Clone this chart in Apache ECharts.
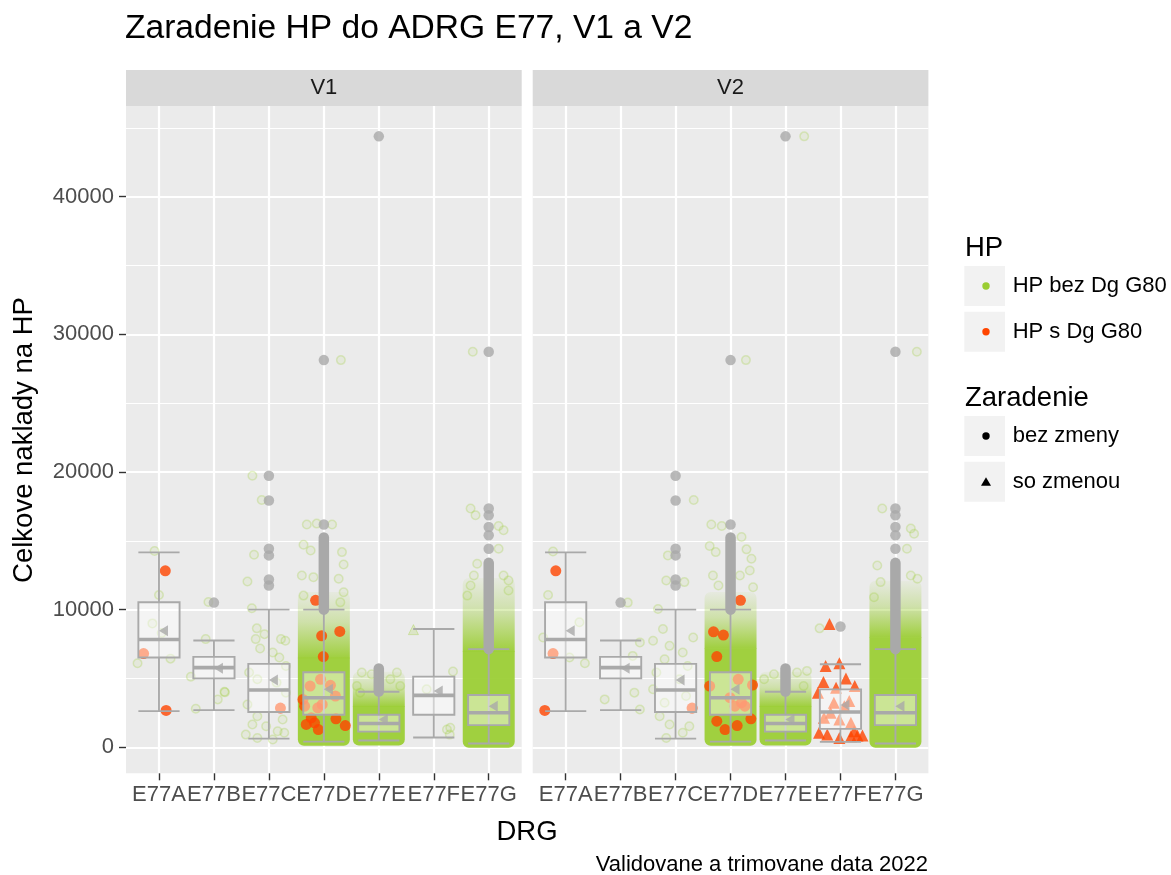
<!DOCTYPE html>
<html>
<head>
<meta charset="utf-8">
<title>Zaradenie HP do ADRG E77, V1 a V2</title>
<script src="https://cdn.jsdelivr.net/npm/echarts@6/dist/echarts.min.js"></script>
<style>
  html, body { margin: 0; padding: 0; background: #ffffff; }
  #chart { width: 1171px; height: 875px; }
</style>
</head>
<body>
<div id="chart"></div>
<script>
// kategorie a fazety
const drgCodes = ['E77A', 'E77B', 'E77C', 'E77D', 'E77E', 'E77F', 'E77G']
const facets = ['V1', 'V2']
const yTicks = [0, 10000, 20000, 30000, 40000]
const yMinorTicks = [5000, 15000, 25000, 35000, 45000]
const yMin = -1890
const yMax = 46590

// boxplot: [dolny whisker, Q1, median, Q3, horny whisker]
const boxV1 = [
  [2630, 6520, 7830, 10540, 14160],
  [2700, 5010, 5790, 6570, 7760],
  [630, 2560, 4160, 6060, 10000],
  [410, 2360, 3600, 5450, 10000],
  [490, 1140, 1730, 2360, 4040],
  [710, 2360, 3770, 5130, 8590],
  [270, 1610, 2510, 3800, 7130]
]
const boxV2 = [
  [2630, 6520, 7830, 10540, 14160],
  [2700, 5010, 5790, 6570, 7760],
  [630, 2560, 4160, 6060, 10000],
  [410, 2360, 3600, 5450, 10000],
  [490, 1140, 1730, 2360, 4040],
  [390, 1340, 2560, 4210, 6030],
  [270, 1610, 2510, 3800, 7130]
]
const meanV1 = [8470, 5750, 4890, 4210, 2020, 4090, 2990]
const meanV2 = [8470, 5750, 4890, 4210, 2020, 3070, 2990]

// odlahle hodnoty: [drg, hodnota]
const outliersV1 = [[1, 10510], [2, 19730], [2, 17930], [2, 14430], [2, 13940], [2, 12190], [2, 11750],
  [3, 16180], [3, 28130], [4, 44385], [6, 14430], [6, 15400], [6, 16010], [6, 16860], [6, 17350], [6, 28740]]
const outliersV2 = [[1, 10510], [2, 19730], [2, 17930], [2, 14430], [2, 13940], [2, 12190], [2, 11750],
  [3, 16180], [3, 28130], [4, 44385], [5, 8780], [6, 14430], [6, 15400], [6, 16010], [6, 16860], [6, 17350], [6, 28740]]
// husto nahustene odlahle hodnoty: [drg, od, do]
const outlierRunsV1 = [[3, 10000, 15250], [4, 4050, 5720], [6, 7130, 13400]]
const outlierRunsV2 = [[3, 10000, 15250], [4, 4050, 5720], [6, 7130, 13400]]

// husty oblak HP bez Dg G80: [drg, od, plne do, riedke do]
const cloudV1 = [[3, 400, 6500, 11000], [4, 420, 3000, 5200], [6, 260, 7000, 12000]]
const cloudV2 = [[3, 400, 7200, 11000], [4, 420, 3000, 5200], [6, 260, 8000, 11800]]

// jednotlive body: [drg, jitter, hodnota]
const ringsV1 = [
  [0, -0.08, 14260], [0, 0, 11070], [0, -0.12, 9000], [0, -0.39, 6110], [0, 0.21, 6440], [0, 0.05, 8300],
  [1, -0.10, 10560], [1, -0.15, 7860], [1, -0.42, 5130], [1, 0.19, 4040], [1, -0.33, 2800], [1, 0.07, 3480], [1, 0.2, 3990],
  [2, -0.30, 19730], [2, -0.13, 17960], [2, -0.27, 13990], [2, -0.39, 12040], [2, -0.31, 10100], [2, -0.22, 8640],
  [2, -0.08, 8220], [2, 0.22, 7860], [2, -0.24, 7860], [2, 0.30, 7740], [2, -0.16, 7180], [2, 0.07, 6890],
  [2, 0.19, 6520], [2, 0.31, 5910], [2, -0.36, 5430], [2, -0.21, 4940], [2, 0.14, 4700], [2, 0.31, 3970],
  [2, -0.39, 3110], [2, -0.21, 2260], [2, 0.25, 2020], [2, -0.30, 1650], [2, -0.05, 1530], [2, 0.16, 1170],
  [2, -0.42, 920], [2, -0.21, 680], [2, 0.28, 1050], [2, 0.07, 560],
  [3, 0.31, 28130], [3, -0.31, 16180], [3, -0.13, 16250], [3, 0.15, 16180], [3, -0.37, 14720], [3, -0.24, 14300],
  [3, 0.33, 14180], [3, 0.36, 13280], [3, -0.40, 12480], [3, -0.19, 12360], [3, 0.27, 12240], [3, 0.36, 11260],
  [3, -0.37, 11020], [3, 0.30, 10530],
  [4, -0.31, 5430], [4, -0.13, 5300], [4, 0.33, 5430], [4, 0.39, 4450], [4, -0.40, 4450], [4, 0.21, 4940], [4, -0.34, 3970],
  [5, -0.13, 4210], [5, 0.35, 5500], [5, 0.24, 1290], [5, 0.29, 920], [5, 0.3, 1420],
  [6, -0.29, 28740], [6, -0.33, 17350], [6, -0.24, 16860], [6, 0.18, 16080], [6, 0.27, 15770], [6, 0.18, 14430],
  [6, -0.21, 13330], [6, -0.27, 12480], [6, 0.27, 12480], [6, 0.36, 12120], [6, -0.33, 11750], [6, 0.36, 11390], [6, -0.39, 11020]
]
const ringsV2 = [
  [0, -0.23, 14230], [0, -0.32, 11070], [0, -0.41, 7980], [0, 0.25, 9080], [0, 0.35, 6110], [0, 0.07, 6520],
  [1, 0.13, 10510], [1, 0.35, 7620], [1, -0.29, 3480], [1, 0.35, 2750], [1, 0.25, 3970], [1, 0.22, 6640],
  [2, 0.33, 17960], [2, -0.14, 13940], [2, -0.17, 12120], [2, 0.16, 12000], [2, -0.32, 10050], [2, -0.23, 8590],
  [2, -0.41, 7740], [2, 0.32, 7980], [2, -0.11, 7370], [2, 0.13, 6890], [2, -0.20, 6400], [2, 0.22, 5910],
  [2, -0.35, 5430], [2, 0.07, 4940], [2, -0.41, 4210], [2, -0.20, 3240], [2, 0.19, 3720], [2, -0.29, 2260],
  [2, -0.11, 1650], [2, 0.25, 1530], [2, -0.17, 680], [2, 0.13, 1050],
  [3, 0.28, 28130], [3, -0.35, 16180], [3, -0.16, 16080], [3, 0.20, 15280], [3, -0.38, 14620], [3, -0.27, 14180],
  [3, 0.29, 14380], [3, 0.38, 13700], [3, -0.32, 12480], [3, 0.17, 12480], [3, 0.35, 12850], [3, -0.22, 11750], [3, 0.41, 11630],
  [4, 0.34, 44385], [4, -0.39, 4940], [4, -0.21, 5300], [4, 0.21, 5430], [4, 0.39, 5550], [4, 0.33, 4450],
  [5, -0.38, 8640],
  [6, 0.39, 28740], [6, -0.24, 17350], [6, 0.28, 15890], [6, 0.34, 15520], [6, 0.21, 14430], [6, -0.33, 13210],
  [6, -0.27, 12000], [6, 0.28, 12480], [6, 0.40, 12240], [6, -0.39, 10900]
]
const greenTriV1 = [[5, -0.37, 8550]]
const greenTriV2 = []

const redV1 = [
  [0, 0.115, 12820], [0, 0.13, 2680], [0, -0.28, 6810],
  [2, 0.21, 2850],
  [3, -0.15, 10680], [3, -0.04, 8100], [3, 0.29, 8420], [3, -0.01, 6590], [3, -0.38, 3480], [3, -0.35, 2990],
  [3, -0.32, 1660], [3, -0.17, 1780], [3, -0.10, 1290], [3, 0.22, 2070], [3, 0.39, 1580], [3, -0.23, 2140],
  [3, -0.25, 4450], [3, -0.06, 4940], [3, 0.12, 4500], [3, 0.21, 3720], [3, -0.11, 2870], [3, -0.03, 3110]
]
const redV2 = [
  [0, -0.18, 12820], [0, -0.38, 2680], [0, -0.23, 6810],
  [2, 0.30, 2850],
  [3, 0.18, 10680], [3, -0.31, 8390], [3, -0.13, 8150], [3, -0.25, 6590], [3, -0.38, 4450], [3, 0.40, 4520],
  [3, -0.25, 1900], [3, -0.10, 1290], [3, 0.12, 1580], [3, 0.37, 2070], [3, 0.14, 4940], [3, -0.01, 3600],
  [3, 0.08, 2990], [3, 0.26, 2990], [3, 0.20, 3240]
]
const redTriV1 = []
const redTriV2 = [
  [5, -0.20, 8950], [5, -0.27, 5910], [5, -0.02, 6110], [5, -0.31, 4740], [5, 0.10, 4990], [5, 0.26, 4450],
  [5, -0.41, 3970], [5, -0.08, 4330], [5, -0.12, 3240], [5, 0.07, 2990], [5, 0.16, 3360], [5, -0.18, 2500],
  [5, -0.02, 2010], [5, 0.19, 1780], [5, -0.30, 2140], [5, -0.39, 1050], [5, -0.24, 920], [5, -0.02, 680],
  [5, 0.19, 800], [5, 0.31, 850], [5, 0.40, 850], [5, 0.25, 1170]
]

const facetData = [
  { box: boxV1, mean: meanV1, out: outliersV1, runs: outlierRunsV1, cloud: cloudV1, rings: ringsV1, greenTri: greenTriV1, red: redV1, redTri: redTriV1 },
  { box: boxV2, mean: meanV2, out: outliersV2, runs: outlierRunsV2, cloud: cloudV2, rings: ringsV2, greenTri: greenTriV2, red: redV2, redTri: redTriV2 }
]

const fontFamily = "'Liberation Sans', Arial, sans-serif"
const green = '#9ACD32'
const red = '#FF4500'
const gray = '#A9A9A9'
const gridLeft = [126, 532.7]
const gridTop = 106
const gridWidth = 395.7
const gridHeight = 667.3

const chart = echarts.init(document.getElementById('chart'), null, { renderer: 'canvas' })

const jitter = (pts) => pts.map((p) => [p[0] + p[1], p[2]])

// oblak bodov ako plocha cez skaly osi
const renderCloud = (params, api) => {
  const x = api.value(0)
  const a = api.coord([x - 0.4, api.value(1)])
  const b = api.coord([x + 0.4, api.value(2)])
  const c = api.coord([x + 0.4, api.value(3)])
  const pad = 4
  const solid = 'rgba(154,205,50,0.93)'
  return {
    type: 'group',
    children: [
      {
        type: 'rect',
        shape: { x: a[0] - pad, y: c[1] - pad, width: b[0] - a[0] + 2 * pad, height: b[1] - c[1] + pad + 0.5, r: [6, 6, 0, 0] },
        style: {
          fill: new echarts.graphic.LinearGradient(0, 0, 0, 1, [
            { offset: 0, color: 'rgba(154,205,50,0.06)' },
            { offset: 0.45, color: 'rgba(154,205,50,0.35)' },
            { offset: 1, color: solid }
          ])
        }
      },
      {
        type: 'rect',
        shape: { x: a[0] - pad, y: b[1], width: b[0] - a[0] + 2 * pad, height: a[1] - b[1] + pad, r: [0, 0, 6, 6] },
        style: { fill: solid }
      }
    ]
  }
}

const renderBox = (params, api) => {
  const x = api.value(0)
  const lo = api.coord([x, api.value(1)])
  const q1 = api.coord([x, api.value(2)])
  const md = api.coord([x, api.value(3)])
  const q3 = api.coord([x, api.value(4)])
  const hi = api.coord([x, api.value(5)])
  const half = api.size([0.75, 0])[0] / 2
  const cx = lo[0]
  const st = { stroke: gray, lineWidth: 1.9, fill: null }
  return {
    type: 'group',
    children: [
      { type: 'line', shape: { x1: cx, y1: hi[1], x2: cx, y2: lo[1] }, style: st },
      { type: 'line', shape: { x1: cx - half, y1: hi[1], x2: cx + half, y2: hi[1] }, style: st },
      { type: 'line', shape: { x1: cx - half, y1: lo[1], x2: cx + half, y2: lo[1] }, style: st },
      {
        type: 'rect',
        shape: { x: cx - half, y: q3[1], width: 2 * half, height: q1[1] - q3[1] },
        style: { fill: 'rgba(255,255,255,0.45)', stroke: gray, lineWidth: 1.9 }
      },
      { type: 'line', shape: { x1: cx - half, y1: md[1], x2: cx + half, y2: md[1] }, style: { stroke: gray, lineWidth: 3.6 } }
    ]
  }
}

const renderRun = (params, api) => {
  const x = api.value(0)
  const a = api.coord([x, api.value(1)])
  const b = api.coord([x, api.value(2)])
  return {
    type: 'line',
    shape: { x1: a[0], y1: a[1], x2: b[0], y2: b[1] },
    style: { stroke: gray, lineWidth: 10.5, lineCap: 'round' }
  }
}

const series = []
facetData.forEach((d, f) => {
  const ax = { xAxisIndex: f, yAxisIndex: f, silent: true }
  series.push({ ...ax, type: 'custom', z: 2, renderItem: renderCloud, data: d.cloud })
  series.push({
    ...ax, type: 'scatter', z: 3, symbol: 'circle', symbolSize: 8.5, data: jitter(d.rings),
    itemStyle: { color: 'rgba(154,205,50,0.10)', borderColor: 'rgba(154,205,50,0.32)', borderWidth: 1.5 }
  })
  series.push({
    ...ax, type: 'scatter', z: 3, symbol: 'triangle', symbolSize: 10, data: jitter(d.greenTri),
    itemStyle: { color: 'rgba(154,205,50,0.25)', borderColor: 'rgba(154,205,50,0.4)', borderWidth: 1 }
  })
  series.push({ ...ax, type: 'scatter', z: 4, symbol: 'circle', symbolSize: 11, data: jitter(d.red), itemStyle: { color: red } })
  series.push({ ...ax, type: 'scatter', z: 4, symbol: 'triangle', symbolSize: 12, data: jitter(d.redTri), itemStyle: { color: red } })
  series.push({ ...ax, type: 'custom', z: 5, renderItem: renderBox, data: d.box.map((b, i) => [i, ...b]) })
  series.push({ ...ax, type: 'custom', z: 6, renderItem: renderRun, data: d.runs })
  series.push({ ...ax, type: 'scatter', z: 6, symbol: 'circle', symbolSize: 10.5, data: d.out, itemStyle: { color: gray } })
  series.push({
    ...ax, type: 'scatter', z: 7, symbol: 'triangle', symbolSize: [11, 9], symbolRotate: 90, symbolOffset: [4.5, 0],
    data: d.mean.map((m, i) => [i, m]), itemStyle: { color: gray }
  })
})

const drgIdx = drgCodes.map((c, i) => i)
const xAxes = facets.map((name, gi) => ({
  type: 'value', gridIndex: gi, min: -0.6, max: 6.6,
  axisLine: { show: false, onZero: false },
  axisTick: { show: true, customValues: drgIdx, length: 7, lineStyle: { color: '#333333', width: 1.4 } },
  axisLabel: {
    customValues: drgIdx, formatter: (v) => drgCodes[Math.round(v)] || '',
    color: '#4d4d4d', fontSize: 22, fontFamily, margin: 11
  },
  splitLine: { show: true, lineStyle: { color: '#ffffff', width: 2.2 } }
}))
const yAxes = facets.map((name, gi) => ({
  type: 'value', gridIndex: gi, min: yMin, max: yMax,
  axisLine: { show: false, onZero: false },
  axisTick: { show: gi === 0, customValues: yTicks, length: 7, lineStyle: { color: '#333333', width: 1.4 } },
  axisLabel: {
    show: gi === 0, customValues: yTicks, formatter: (v) => String(v),
    color: '#4d4d4d', fontSize: 22, fontFamily, margin: 12
  },
  splitLine: { show: true, lineStyle: { color: '#ffffff', width: 2.2 } }
})).concat(facets.map((name, gi) => ({
  type: 'value', gridIndex: gi, min: yMin, max: yMax, position: 'left',
  axisLine: { show: false, onZero: false },
  axisTick: { show: false, customValues: yMinorTicks },
  axisLabel: { show: false },
  splitLine: { show: true, lineStyle: { color: '#ffffff', width: 1.1 } }
})))

const txt = (x, y, text, size, extra) => ({
  type: 'text', x, y, silent: true, ...extra,
  style: Object.assign({ text, font: size + 'px ' + fontFamily, fill: '#000000', align: 'left', verticalAlign: 'middle',
    textAlign: 'left', textVerticalAlign: 'middle' }, extra && extra.style)
})

const graphics = [
  txt(125, 29, 'Zaradenie HP do ADRG E77, V1 a V2', 33.6),
  txt(527, 832, 'DRG', 27.5, { style: { align: 'center', textAlign: 'center' } }),
  txt(24, 440, 'Celkove naklady na HP', 27.5, { rotation: Math.PI / 2, style: { align: 'center', textAlign: 'center' } }),
  txt(928, 865, 'Validovane a trimovane data 2022', 22, { style: { align: 'right', textAlign: 'right' } })
]
facets.forEach((name, gi) => {
  graphics.push({ type: 'rect', silent: true, shape: { x: gridLeft[gi], y: 70, width: gridWidth, height: gridTop - 70 }, style: { fill: '#d9d9d9' } })
  graphics.push(txt(gridLeft[gi] + gridWidth / 2, 88, name, 22, { style: { fill: '#1a1a1a', align: 'center', textAlign: 'center' } }))
})
// legenda
const legendKeys = [
  { y: 266, label: 'HP bez Dg G80', color: green, shape: 'circle' },
  { y: 311.7, label: 'HP s Dg G80', color: red, shape: 'circle' },
  { y: 416, label: 'bez zmeny', color: '#000000', shape: 'circle' },
  { y: 461.7, label: 'so zmenou', color: '#000000', shape: 'triangle' }
]
graphics.push(txt(965, 248, 'HP', 27.5))
graphics.push(txt(965, 398, 'Zaradenie', 27.5))
legendKeys.forEach((k) => {
  const cy = k.y + 20
  graphics.push({ type: 'rect', silent: true, shape: { x: 964.3, y: k.y, width: 40.7, height: 40 }, style: { fill: '#f2f2f2' } })
  if (k.shape === 'circle') {
    graphics.push({ type: 'circle', silent: true, shape: { cx: 986, cy, r: 3.7 }, style: { fill: k.color } })
  } else {
    graphics.push({ type: 'polygon', silent: true, shape: { points: [[986, cy - 4.5], [981, cy + 4], [991, cy + 4]] }, style: { fill: k.color } })
  }
  graphics.push(txt(1012.7, cy, k.label, 22))
})

chart.setOption({
  animation: false,
  backgroundColor: '#ffffff',
  grid: facets.map((name, gi) => ({
    left: gridLeft[gi], top: gridTop, width: gridWidth, height: gridHeight,
    show: true, backgroundColor: '#ebebeb', borderWidth: 0, containLabel: false
  })),
  xAxis: xAxes,
  yAxis: yAxes,
  series,
  graphic: { elements: graphics }
})
</script>
</body>
</html>
